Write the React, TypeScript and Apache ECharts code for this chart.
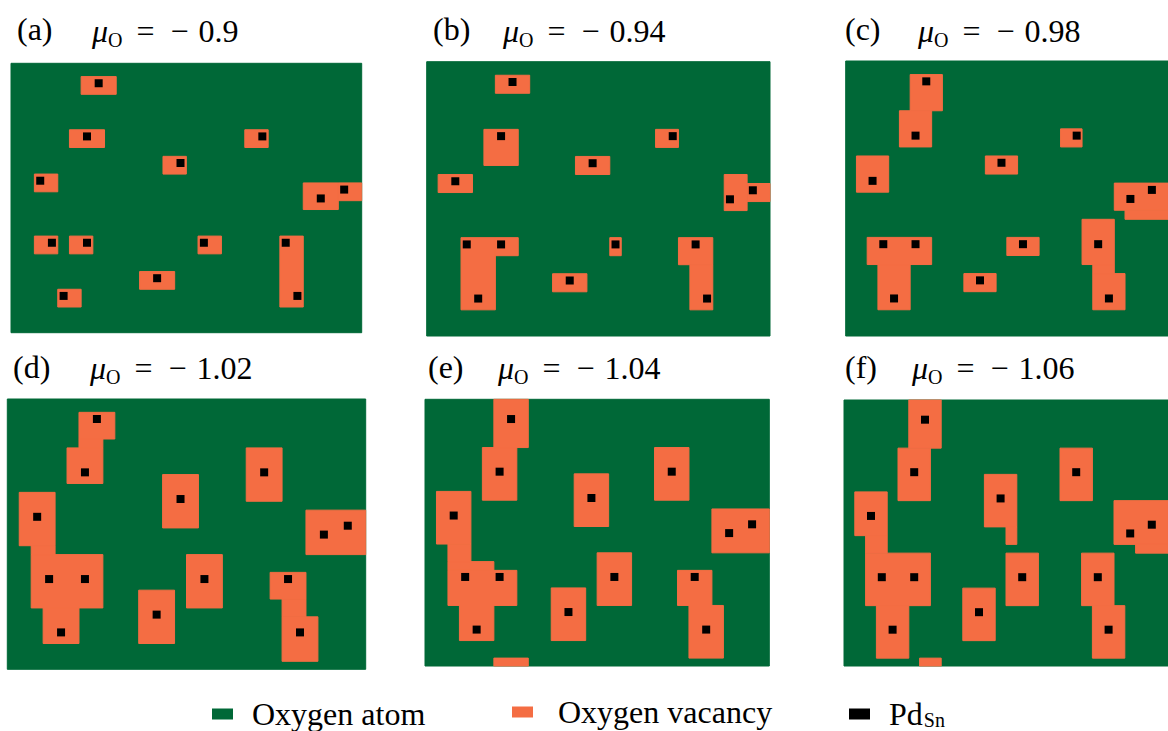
import React, { useEffect, useRef } from "react";
import * as echarts from "echarts";

// ---------- data ----------
const PANEL_LABELS = ["(a)", "(b)", "(c)", "(d)", "(e)", "(f)"];
const MU_O_VALUES = ["0.9", "0.94", "0.98", "1.02", "1.04", "1.06"];

// lattice extent in cell units (columns, rows)
const LATTICE_X = [0, 30];
const LATTICE_Y = [-0.5, 29.9];

// Pd_Sn dopant sites (column centre, row position) — same in every panel
const PD_SN: number[][] = [
  [7.5, 1.75], [6.5, 7.75], [21.5, 7.75], [14.5, 10.75], [2.5, 12.75],
  [28.5, 13.75], [26.5, 14.75], [3.5, 19.75], [6.5, 19.75], [16.5, 19.75],
  [23.5, 19.75], [12.5, 23.75], [4.5, 25.75], [24.5, 25.75],
];

// oxygen-vacancy blocks: [x0, x1, y0, y1] in cell units
const VAC_A: number[][] = [
  [6, 9, 1, 3], [5, 8, 7, 9], [20, 22, 7, 9], [13, 15, 10, 12], [2, 4, 12, 14],
  [25, 28, 13, 16], [28, 30, 13, 15], [2, 4, 19, 21], [5, 7, 19, 21],
  [16, 18, 19, 21], [23, 25, 19, 27], [11, 14, 23, 25], [4, 6, 25, 27],
];
const VAC_B: number[][] = [
  [6, 9, 1, 3], [5, 8, 7, 11], [20, 22, 7, 9], [13, 16, 10, 12], [1, 4, 12, 14],
  [26, 28, 12, 16], [28, 30, 13, 15], [3, 6, 19, 27], [6, 8, 19, 21],
  [16, 17, 19, 21], [11, 14, 23, 25], [22, 25, 19, 22], [23, 25, 22, 27],
];
const VAC_C: number[][] = [
  [6, 9, 1, 5], [5, 8, 5, 9], [20, 22, 7, 9], [13, 16, 10, 12], [1, 4, 10, 14],
  [25, 30, 13, 16], [26, 30, 16, 17], [2, 8, 19, 22], [3, 6, 22, 27],
  [15, 18, 19, 21], [11, 14, 23, 25], [22, 25, 17, 22], [23, 25, 22, 23],
  [23, 26, 23, 27],
];
const VAC_D: number[][] = [
  [6, 9, 1, 4], [6, 8, 4, 5], [5, 8, 5, 9], [20, 23, 5, 11], [13, 16, 8, 14],
  [1, 4, 10, 16], [2, 4, 16, 17], [2, 8, 17, 23], [3, 6, 23, 27],
  [25, 30, 12, 17], [15, 18, 17, 23], [11, 14, 21, 27], [22, 25, 19, 22],
  [23, 25, 22, 24], [23, 26, 24, 29],
];
const VAC_E: number[][] = [
  [6, 9, -0.5, 5], [5, 8, 5, 11], [6, 9, 29, 29.9], [20, 23, 5, 11],
  [13, 16, 8, 14], [1, 4, 10, 16], [2, 4, 16, 18], [2, 6, 18, 19],
  [2, 8, 19, 23], [3, 6, 23, 27], [25, 30, 12, 17], [15, 18, 17, 23],
  [11, 14, 21, 27], [22, 25, 19, 23], [23, 26, 23, 29],
];
const VAC_F: number[][] = [
  [6, 9, -0.5, 5], [5, 8, 5, 11], [7, 9, 29, 29.9], [20, 23, 5, 11],
  [13, 16, 8, 14], [15, 16, 14, 16], [1, 4, 10, 15], [2, 4, 15, 17],
  [2, 8, 17, 23], [3, 6, 23, 29], [25, 30, 11, 16], [27, 30, 16, 17],
  [15, 18, 17, 23], [11, 14, 21, 27], [22, 25, 17, 23], [23, 26, 23, 29],
];
const VACANCIES = [VAC_A, VAC_B, VAC_C, VAC_D, VAC_E, VAC_F];

// ---------- layout & style ----------
const BOXES = [
  { left: 11, top: 63.3, width: 350.7, height: 269.4 },
  { left: 426.7, top: 61.7, width: 343.3, height: 274.3 },
  { left: 845.7, top: 61, width: 327.6, height: 275 },
  { left: 7.3, top: 399, width: 358.4, height: 270.3 },
  { left: 425, top: 399.3, width: 344.3, height: 266.7 },
  { left: 844, top: 400, width: 332, height: 266 },
];
const LABEL_X = [17, 433, 845, 13, 428, 845];
const MU_X = [92, 503, 918, 90, 498, 912];
const LABEL_Y = [29, 29, 29, 366.5, 366.5, 366.5];
const MU_Y = [30.5, 30.5, 30.5, 367.5, 367.5, 367.5];

const GREEN = "#006837";
const ORANGE = "#f46d43";
const BLACK = "#000000";
const FONT = "'Liberation Serif', 'Times New Roman', serif";

function renderBlock(params: any, api: any) {
  const p0 = api.coord([api.value(0), api.value(2)]);
  const p1 = api.coord([api.value(1), api.value(3)]);
  const color = api.visual("color");
  return {
    type: "rect",
    shape: {
      x: Math.min(p0[0], p1[0]),
      y: Math.min(p0[1], p1[1]),
      width: Math.abs(p1[0] - p0[0]),
      height: Math.abs(p1[1] - p0[1]),
    },
    style: { fill: color, stroke: color, lineWidth: 1, opacity: 1 },
  };
}

function buildOption() {
  const grid = BOXES.map((b) => ({ ...b, containLabel: false }));
  const xAxis = BOXES.map((_, i) => ({
    gridIndex: i, type: "value", min: LATTICE_X[0], max: LATTICE_X[1], show: false,
  }));
  const yAxis = BOXES.map((_, i) => ({
    gridIndex: i, type: "value", min: LATTICE_Y[0], max: LATTICE_Y[1], inverse: true, show: false,
  }));
  const series: any[] = [];
  VACANCIES.forEach((vac, i) => {
    series.push({
      type: "custom", name: "Oxygen atom", xAxisIndex: i, yAxisIndex: i, z: 1,
      renderItem: renderBlock, encode: { x: [0, 1], y: [2, 3] },
      itemStyle: { color: GREEN, opacity: 1 }, silent: true,
      data: [[LATTICE_X[0], LATTICE_X[1], LATTICE_Y[0], LATTICE_Y[1]]],
    });
    series.push({
      type: "custom", name: "Oxygen vacancy", xAxisIndex: i, yAxisIndex: i, z: 2,
      renderItem: renderBlock, encode: { x: [0, 1], y: [2, 3] },
      itemStyle: { color: ORANGE, opacity: 1 }, silent: true, data: vac,
    });
    series.push({
      type: "scatter", name: "PdSn", xAxisIndex: i, yAxisIndex: i, z: 3,
      symbol: "rect", symbolSize: 8, itemStyle: { color: BLACK, opacity: 1 }, silent: true,
      data: PD_SN,
    });
  });

  const legendBase = {
    orient: "horizontal", itemWidth: 21, itemHeight: 11, padding: 0, icon: "rect",
    selectedMode: false, itemStyle: { borderWidth: 0, opacity: 1 }, top: 698,
  };
  const legend = [
    { ...legendBase, data: ["Oxygen atom"], left: 212,
      textStyle: { fontFamily: FONT, fontSize: 32, color: "#000", lineHeight: 32, padding: [0, 0, 0, 14] } },
    { ...legendBase, data: ["Oxygen vacancy"], left: 512, top: 696,
      textStyle: { fontFamily: FONT, fontSize: 32, color: "#000", lineHeight: 32, padding: [0, 0, 0, 20] } },
    { ...legendBase, data: ["PdSn"], left: 849,
      formatter: () => "{p|Pd}{s|Sn}",
      textStyle: {
        fontFamily: FONT, fontSize: 32, color: "#000", lineHeight: 32, padding: [0, 0, 0, 14],
        rich: {
          p: { fontFamily: FONT, fontSize: 32, lineHeight: 32, color: "#000" },
          s: { fontFamily: FONT, fontSize: 20, lineHeight: 20, color: "#000", padding: [12, 0, 0, 1] },
        },
      } },
  ];

  const graphic: any[] = [];
  PANEL_LABELS.forEach((t, i) => {
    graphic.push({
      type: "text", x: LABEL_X[i], y: LABEL_Y[i], silent: true,
      style: { text: t, fontFamily: FONT, fontSize: 32, fill: "#000", verticalAlign: "middle", align: "left" },
    });
  });
  MU_O_VALUES.forEach((v, i) => {
    graphic.push({
      type: "text", x: MU_X[i], y: MU_Y[i], silent: true,
      style: {
        text: `{m|μ}{s|O}{e|=}{d|−}{n|${v}}`,
        fontFamily: FONT, fontSize: 32, fill: "#000", verticalAlign: "middle", align: "left",
        rich: {
          m: { fontFamily: FONT, fontSize: 32, fontStyle: "italic", lineHeight: 40, fill: "#000" },
          s: { fontFamily: FONT, fontSize: 20, lineHeight: 20, fill: "#000", padding: [18, 0, 0, 0] },
          e: { fontFamily: FONT, fontSize: 32, lineHeight: 40, fill: "#000", padding: [0, 0, 0, 14] },
          d: { fontFamily: FONT, fontSize: 32, lineHeight: 40, fill: "#000", padding: [0, 0, 0, 16] },
          n: { fontFamily: FONT, fontSize: 32, lineHeight: 40, fill: "#000", padding: [0, 0, 0, 10] },
        },
      },
    });
  });

  return {
    animation: false,
    backgroundColor: "#ffffff",
    grid, xAxis, yAxis, series, legend, graphic,
  };
}

export default function App() {
  const ref = useRef<HTMLDivElement>(null);
  useEffect(() => {
    if (!ref.current) return;
    const chart = echarts.init(ref.current, null, { renderer: "svg" });
    chart.setOption(buildOption() as any);
    return () => chart.dispose();
  }, []);
  return (
    <div
      ref={ref}
      style={{ position: "fixed", left: 0, top: 0, width: 1168, height: 731, background: "#fff" }}
    />
  );
}
